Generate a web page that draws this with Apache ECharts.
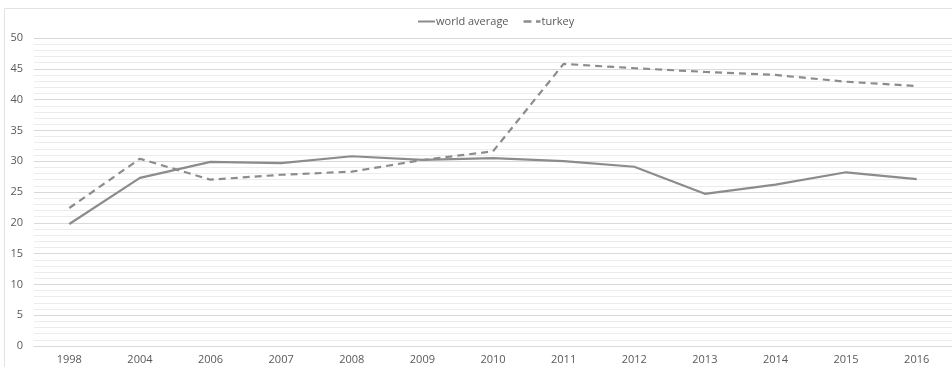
<!DOCTYPE html>
<html>
<head>
<meta charset="utf-8">
<script src="https://cdn.jsdelivr.net/npm/echarts@6/dist/echarts.min.js"></script>
<style>
  html, body { margin: 0; padding: 0; background: #ffffff; }
  #chart { width: 952px; height: 367px; }
</style>
</head>
<body>
<div id="chart"></div>
<script>
// Years on the category axis
const years = ['1998', '2004', '2006', '2007', '2008', '2009', '2010', '2011', '2012', '2013', '2014', '2015', '2016'];

// Series values
const worldAverage = [19.8, 27.3, 29.9, 29.7, 30.8, 30.2, 30.5, 30.0, 29.1, 24.7, 26.2, 28.2, 27.1];
const turkey = [22.4, 30.4, 27.0, 27.8, 28.3, 30.2, 31.6, 45.8, 45.1, 44.5, 44.0, 42.9, 42.2];

// Value axis range
const yMin = 0;
const yMax = 50;
const yStep = 5;

const labelFont = { color: '#595959', fontSize: 11, fontFamily: 'Open Sans' };
const lineColor = '#8c8c8c';

const chart = echarts.init(document.getElementById('chart'), null, { renderer: 'canvas' });

chart.setOption({
  backgroundColor: '#ffffff',
  animation: false,
  graphic: [{
    type: 'rect',
    shape: { x: 4.5, y: 8.5, width: 960, height: 400 },
    style: { fill: 'none', stroke: '#e2e2e2', lineWidth: 1 },
    silent: true,
    z: -1
  }],
  legend: {
    top: 11,
    left: 413,
    itemWidth: 17,
    itemHeight: 10,
    itemGap: 15,
    textStyle: { color: '#595959', fontSize: 11, fontFamily: 'Open Sans', padding: [0, 0, 0, -4] },
    data: [
      { name: 'world average', icon: 'path://M0,4 L17,4 L17,6 L0,6 Z' },
      { name: 'turkey', icon: 'path://M0,4 L7,4 L7,6 L0,6 Z M11,4 L15,4 L15,6 L11,6 Z' }
    ]
  },
  grid: { left: 34, right: -1, top: 38, bottom: 21, containLabel: false },
  xAxis: {
    type: 'category',
    data: years,
    boundaryGap: true,
    axisLine: { show: true, lineStyle: { color: '#d9d9d9', width: 1 } },
    axisTick: { show: false },
    axisLabel: Object.assign({ margin: 8 }, labelFont),
    splitLine: { show: false }
  },
  yAxis: {
    type: 'value',
    min: yMin,
    max: yMax,
    interval: yStep,
    axisLine: { show: false },
    axisTick: { show: false },
    axisLabel: Object.assign({ margin: 11 }, labelFont),
    splitLine: { show: true, lineStyle: { color: '#d9d9d9', width: 1 } },
    minorTick: { show: false, splitNumber: 5 },
    minorSplitLine: { show: true, lineStyle: { color: '#ececec', width: 1 } }
  },
  series: [
    {
      name: 'world average',
      type: 'line',
      data: worldAverage,
      symbol: 'none',
      lineStyle: { color: lineColor, width: 2.2, type: 'solid' },
      itemStyle: { color: lineColor }
    },
    {
      name: 'turkey',
      type: 'line',
      data: turkey,
      symbol: 'none',
      lineStyle: { color: lineColor, width: 2.2, type: [7, 5] },
      itemStyle: { color: lineColor }
    }
  ]
});
</script>
</body>
</html>
